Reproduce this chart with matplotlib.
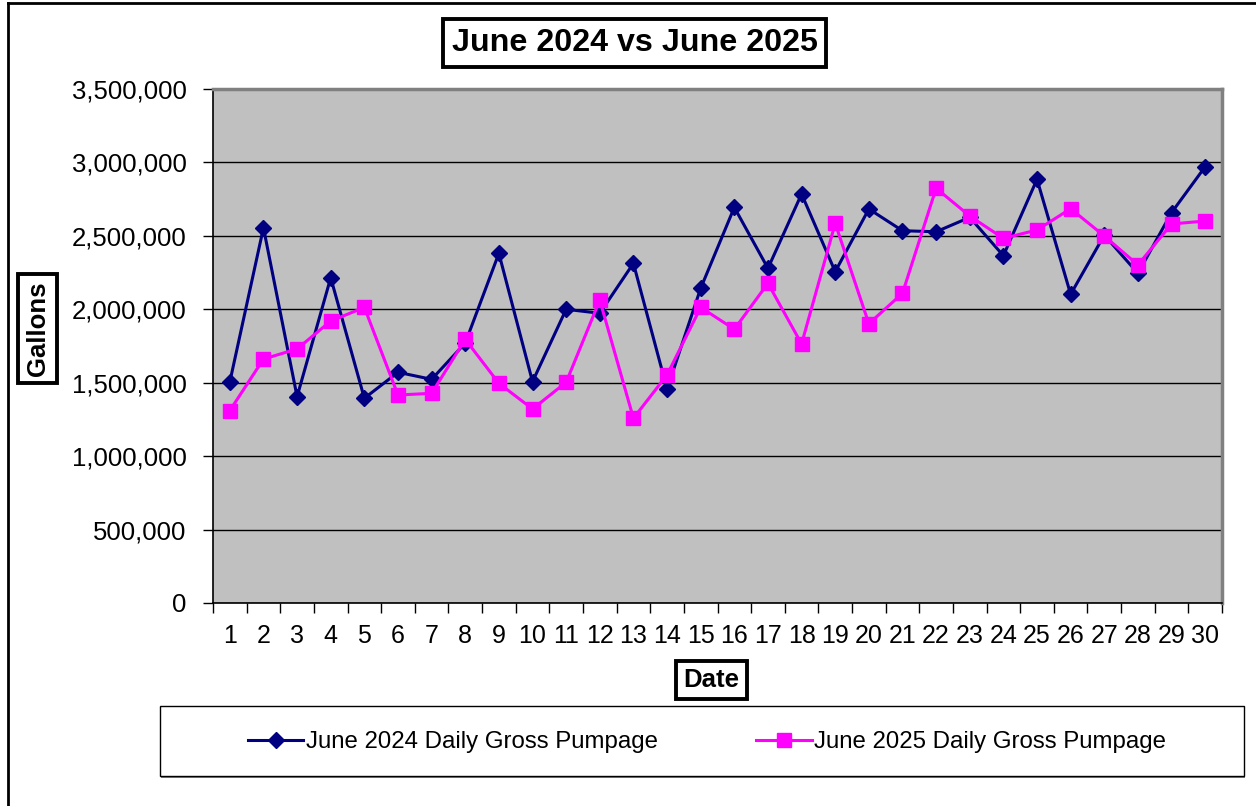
import matplotlib
matplotlib.use("Agg")
import matplotlib.pyplot as plt
from matplotlib.patches import Rectangle
from matplotlib.lines import Line2D
from matplotlib.ticker import FuncFormatter, FixedLocator

plt.rcParams['font.family'] = ['Liberation Sans', 'DejaVu Sans']

days = list(range(1, 31))
pump_2024 = [1505000, 2555000, 1405000, 2215000, 1394000, 1571000, 1523000, 1770000, 2381000, 1507000,
             2000000, 1973000, 2313000, 1457000, 2143000, 2694000, 2279000, 2785000, 2256000, 2683000,
             2535000, 2528000, 2626000, 2365000, 2885000, 2102000, 2505000, 2245000, 2658000, 2971000]
pump_2025 = [1310000, 1661000, 1730000, 1920000, 2013000, 1416000, 1428000, 1795000, 1496000, 1321000,
             1503000, 2063000, 1258000, 1553000, 2013000, 1864000, 2177000, 1764000, 2585000, 1902000,
             2109000, 2824000, 2635000, 2483000, 2540000, 2685000, 2499000, 2302000, 2581000, 2601000]
yticks = [0, 500000, 1000000, 1500000, 2000000, 2500000, 3000000, 3500000]

title = "June 2024 vs June 2025"
label_2024 = "June 2024 Daily Gross Pumpage"
label_2025 = "June 2025 Daily Gross Pumpage"

W, H = 1256, 806
fig = plt.figure(figsize=(W / 100, H / 100), dpi=100)
fig.patch.set_facecolor('white')

def fx(px):
    return px / W

def fy(py):
    return 1 - py / H

ax = fig.add_axes([fx(213), fy(603), fx(1222) - fx(213), fy(89) - fy(603)])
ax.set_facecolor('#C0C0C0')

ax.plot(days, pump_2024, color='#000080', lw=2.2, marker='D', markersize=8.5,
        markerfacecolor='#000080', markeredgecolor='#000080', label=label_2024, zorder=3)
ax.plot(days, pump_2025, color='#FF00FF', lw=2.2, marker='s', markersize=10.5,
        markerfacecolor='#FF00FF', markeredgecolor='#FF00FF', label=label_2025, zorder=4)

ax.set_xlim(0.5, 30.5)
ax.set_ylim(0, 3500000)
ax.set_yticks(yticks)
ax.yaxis.set_major_formatter(FuncFormatter(lambda v, p: f"{int(v):,}"))
ax.grid(axis='y', color='black', lw=1.0, zorder=1)
ax.set_axisbelow(True)

ax.set_xticks(days)
ax.set_xticklabels([str(d) for d in days])
ax.xaxis.set_minor_locator(FixedLocator([d + 0.5 for d in range(0, 31)]))
ax.tick_params(axis='x', which='major', length=0, pad=15, labelsize=18)
ax.tick_params(axis='x', which='minor', length=7, width=1, color='black', direction='out')
ax.tick_params(axis='y', which='major', length=7, width=1, color='black', direction='out',
               labelsize=18.5, pad=12)

for s in ['left', 'bottom']:
    ax.spines[s].set_color('black')
    ax.spines[s].set_linewidth(1.2)
for s in ['top', 'right']:
    ax.spines[s].set_color('#808080')
    ax.spines[s].set_linewidth(2.5)

# Title
fig.text(fx(634.5), fy(43), title, ha='center', va='center', fontsize=23.2, fontweight='bold',
         bbox=dict(boxstyle='square,pad=0.27', facecolor='white', edgecolor='black', linewidth=2.8))

# Axis labels
fig.text(fx(711.5), fy(680), "Date", ha='center', va='center', fontsize=18.5, fontweight='bold',
         bbox=dict(boxstyle='square,pad=0.28', facecolor='white', edgecolor='black', linewidth=2.8))
fig.text(fx(37.5), fy(328.5), "Gallons", ha='center', va='center', fontsize=18.5, fontweight='bold',
         rotation=90,
         bbox=dict(boxstyle='square,pad=0.28', facecolor='white', edgecolor='black', linewidth=2.8))

# Legend box
fig.patches.append(Rectangle((fx(161), fy(778)), fx(1245) - fx(161), fy(706) - fy(778),
                             transform=fig.transFigure, facecolor='#808080', edgecolor='none', zorder=0))
fig.patches.append(Rectangle((fx(160), fy(776)), fx(1244) - fx(160), fy(706) - fy(776),
                             transform=fig.transFigure, facecolor='white', edgecolor='black',
                             linewidth=1.0, zorder=0.5))
handles, labels = ax.get_legend_handles_labels()
leg = fig.legend(handles, labels, loc='center', bbox_to_anchor=(fx(707), fy(742)), ncol=2,
                 frameon=False, fontsize=17.3, handlelength=2.3, handletextpad=0.1,
                 columnspacing=4.1, borderaxespad=0)

# Outer frame (cropped: left and top only)
fig.add_artist(Line2D([fx(7.5), fx(7.5)], [0, fy(3)], transform=fig.transFigure, color='black', lw=2))
fig.add_artist(Line2D([fx(7.5), 1], [fy(3), fy(3)], transform=fig.transFigure, color='black', lw=2))

fig.savefig("out.png", dpi=100)
